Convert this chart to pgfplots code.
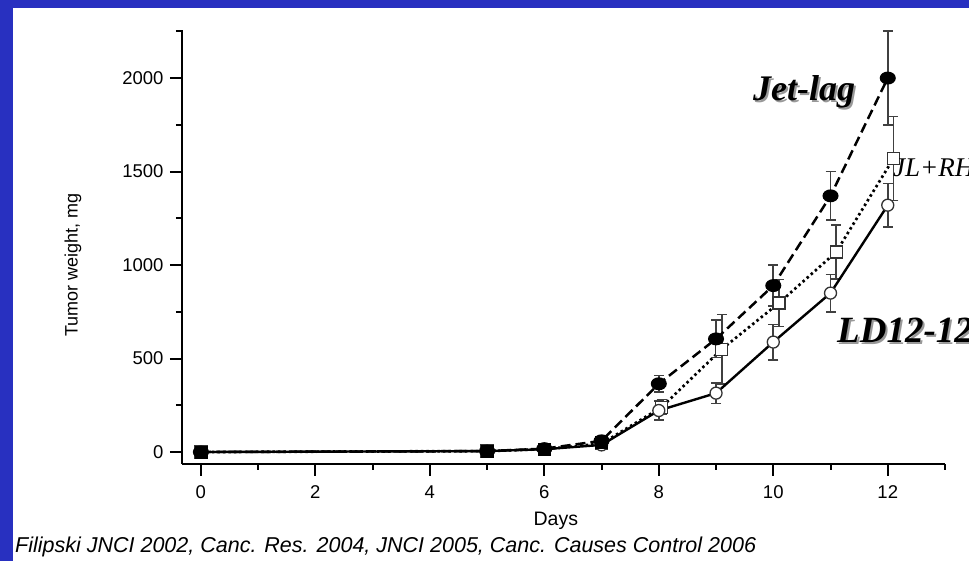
\documentclass[border=0pt]{standalone}
\usepackage{pgfplots}
\pgfplotsset{compat=1.18}
\usepackage{fontspec}
\setmainfont{Liberation Sans}
\newfontfamily\timesfont{Liberation Serif}
\definecolor{bgblue}{RGB}{40,48,192}
\begin{document}
\begin{tikzpicture}[x=1pt,y=1pt]
\useasboundingbox (0,0) rectangle (969,561);
\fill[bgblue] (0,0) rectangle (969,561);
\fill[white] (13,0) rectangle (969,553);
\begin{scope}
\clip (13,0) rectangle (969,553);
\begin{axis}[
  at={(182pt,97pt)}, anchor=south west,
  scale only axis, width=763pt, height=434pt,
  xmin=-0.33, xmax=13, ymin=-64, ymax=2257,
  axis x line*=bottom, axis y line*=left,
  axis line style={line width=2.8pt, black},
  every tick/.style={line width=2pt, black},
  major tick length=12pt, minor tick length=6pt,
  tick align=outside,
  xtick={0,2,...,12}, minor xtick={1,3,...,13},
  ytick={0,500,...,2000}, minor ytick={250,750,...,2250},
  /pgf/number format/assume math mode=true,
  /pgf/number format/1000 sep={},
  ticklabel style={font=\fontsize{18.5}{18.5}\selectfont},
  xticklabel style={yshift=-6pt},
  yticklabel style={xshift=-3pt},
  xlabel={Days},
  xlabel style={font=\fontsize{19.5}{19.5}\selectfont, at={(axis description cs:0.49,0)}, anchor=center, yshift=-57pt},
  ylabel={Tumor weight, mg},
  ylabel style={font=\fontsize{18}{18}\selectfont, at={(axis description cs:-0.1429,0.4585)}, anchor=center},
  clip=false,
  error bars/error bar style={solid, line width=1.6pt, black!75},
  error bars/error mark options={solid, line width=1.6pt, black!75, mark size=5pt, rotate=90},
]
% JL+RH (dotted, open squares)
\addplot[black, line width=2.7pt, dash pattern=on 2.5pt off 3pt,
  mark=square*, mark options={solid, fill=white, draw=black!80, line width=1.3pt, mark size=6pt},
  error bars/.cd, y dir=both, y explicit]
coordinates {
(0,0) (5,5) (6,15) (7,45)
(8.05,240) +- (0,40)
(9.1,550) +- (0,185)
(10.1,797) +- (0,125)
(11.1,1070) +- (0,145)
(12.1,1570) +- (0,225)
};
% LD12-12 (solid, open circles)
\addplot[black, line width=2.4pt,
  mark=*, mark options={solid, fill=white, draw=black!80, line width=1.3pt, mark size=6pt},
  error bars/.cd, y dir=both, y explicit]
coordinates {
(0,0) (5,5) (6,15) (7,38)
(8,222) +- (0,50)
(9,315) +- (0,55)
(10,588) +- (0,95)
(11,850) +- (0,100)
(12,1320) +- (0,115)
};
% Jet-lag (dashed, filled circles)
\addplot[black, line width=2.5pt, dash pattern=on 10pt off 5pt,
  mark=*, mark options={solid, fill=black, draw=black, xscale=1.3, mark size=5.2pt},
  error bars/.cd, y dir=both, y explicit]
coordinates {
(0,0) (5,5) (6,18) (7,60)
(8,365) +- (0,45)
(9,605) +- (0,100)
(10,890) +- (0,110)
(11,1370) +- (0,130)
(12,2000) +- (0,250)
};
% overlapping markers at early days
\addplot[only marks, mark=square*, mark options={fill=black, draw=black, mark size=6pt}]
coordinates {(0,0) (5,5) (6,15) (7,50)};
\end{axis}
% group labels
\node[anchor=center, font=\timesfont\bfseries\itshape\fontsize{36}{36}\selectfont, text=black!40] at (806,467) {Jet-lag};
\node[anchor=center, font=\timesfont\bfseries\itshape\fontsize{36}{36}\selectfont] at (804,469) {Jet-lag};
\node[anchor=west, inner sep=0pt, font=\timesfont\itshape\fontsize{27}{27}\selectfont] at (893,393) {JL+RH};
\node[anchor=west, inner sep=0pt, font=\timesfont\bfseries\itshape\fontsize{37}{37}\selectfont, text=black!40] at (839,229) {LD12-12};
\node[anchor=west, inner sep=0pt, font=\timesfont\bfseries\itshape\fontsize{37}{37}\selectfont] at (837,231) {LD12-12};
\node[anchor=west, inner sep=0pt, font=\itshape\fontsize{21.5}{21.5}\selectfont] at (15,14) {Filipski JNCI 2002, Canc. Res. 2004, JNCI 2005, Canc. Causes Control 2006};
\end{scope}
\end{tikzpicture}
\end{document}
